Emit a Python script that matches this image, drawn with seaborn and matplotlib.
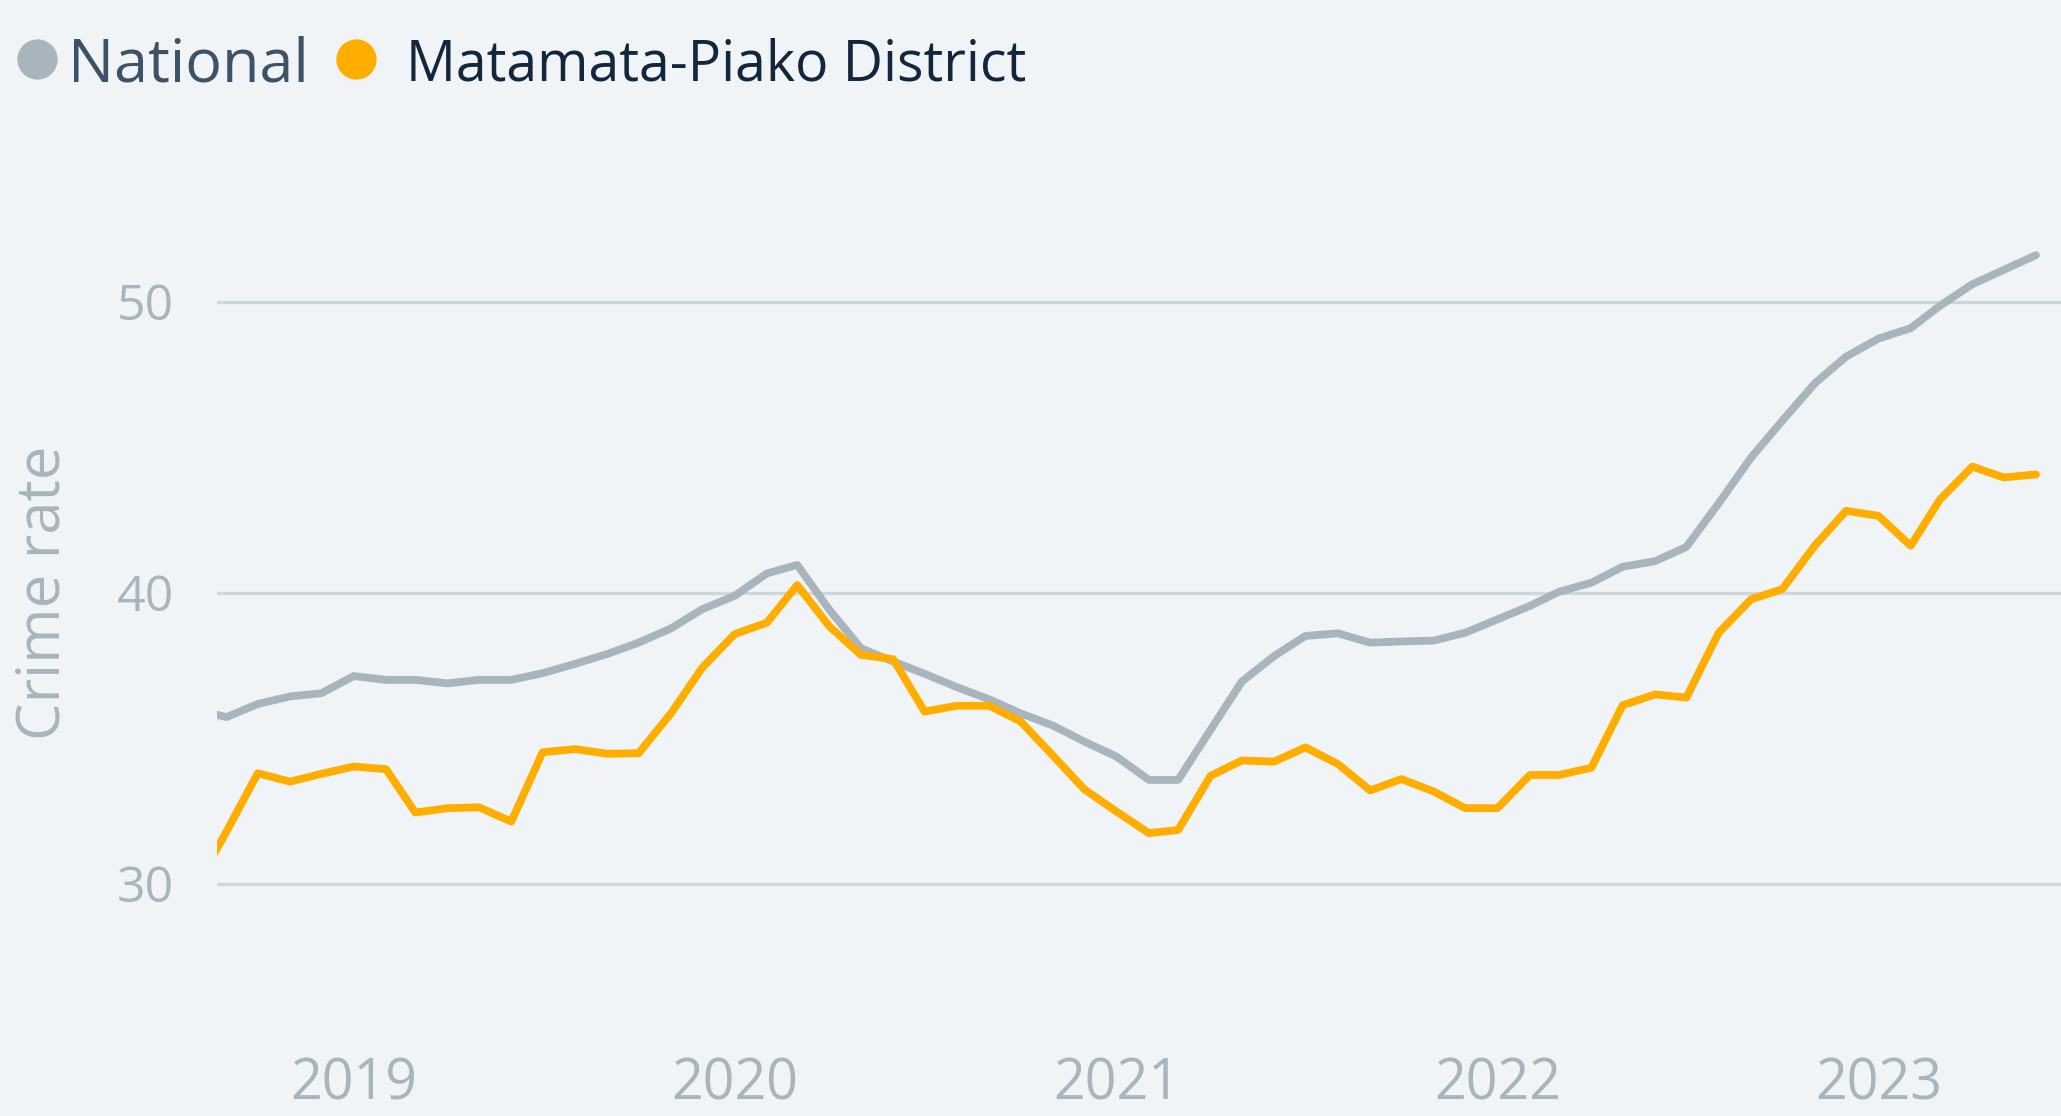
import pandas as pd
import numpy as np
import matplotlib.pyplot as plt
import seaborn as sns
from matplotlib.lines import Line2D

# monthly values, Aug 2018 .. Jun 2023 (first point sits just outside the axes)
months = pd.date_range('2018-08-01', periods=59, freq='MS')
national = [36.0, 35.72, 36.17, 36.43, 36.54, 37.13, 37.0, 37.0, 36.88, 37.0, 37.0,
            37.23, 37.55, 37.89, 38.28, 38.77, 39.43, 39.89, 40.66, 40.95, 39.40,
            38.09, 37.63, 37.21, 36.75, 36.33, 35.85, 35.43, 34.88, 34.36, 33.56,
            33.56, 35.28, 36.94, 37.82, 38.51, 38.60, 38.28, 38.32, 38.35, 38.62,
            39.08, 39.54, 40.03, 40.34, 40.89, 41.08, 41.57, 43.07, 44.64, 45.91,
            47.19, 48.11, 48.73, 49.09, 49.86, 50.60, 51.09, 51.60]
district = [29.8, 31.78, 33.79, 33.50, 33.77, 34.02, 33.93, 32.44, 32.59, 32.62, 32.13,
            34.51, 34.62, 34.46, 34.48, 35.85, 37.42, 38.57, 38.97, 40.26, 38.83,
            37.86, 37.71, 35.91, 36.11, 36.11, 35.57, 34.40, 33.24, 32.47, 31.73,
            31.84, 33.70, 34.23, 34.19, 34.68, 34.11, 33.20, 33.59, 33.16, 32.59,
            32.59, 33.73, 33.73, 33.98, 36.13, 36.50, 36.39, 38.62, 39.77, 40.12,
            41.61, 42.81, 42.64, 41.61, 43.20, 44.33, 43.96, 44.06]
series_names = ['National', 'Matamata-Piako District']
colors = ['#A8B5BC', '#FFAE00']
text_colors = ['#3E5266', '#13263C']
year_ticks = ['2019', '2020', '2021', '2022', '2023']

df = pd.DataFrame({
    'month': list(months) * 2,
    'rate': national + district,
    'area': [series_names[0]] * len(months) + [series_names[1]] * len(months),
})

bg = '#F0F4F7'
W, H = 2061, 1116
sns.set_style('white')
plt.rcParams['font.family'] = ['Open Sans', 'DejaVu Sans']

fig = plt.figure(figsize=(W / 100, H / 100), dpi=100, facecolor=bg)
ax = fig.add_axes([0.1053, 0.078, 0.8947, 0.782])
ax.set_facecolor(bg)

sns.lineplot(data=df, x='month', y='rate', hue='area', hue_order=series_names,
             palette=colors, linewidth=5.6, ax=ax, legend=False,
             solid_capstyle='round')

ax.set_ylim(25, 55)
ax.set_xlim(pd.Timestamp('2018-08-23'), pd.Timestamp('2023-06-25'))
ax.set_yticks([30, 40, 50])
ax.set_xticks([pd.Timestamp(y + '-01-01') for y in year_ticks])
ax.set_xticklabels(year_ticks)
ax.grid(axis='y', color='#CDD7DC', linewidth=2.4)
ax.set_axisbelow(True)
for s in ax.spines.values():
    s.set_visible(False)
ax.tick_params(axis='y', length=0, labelsize=36, labelcolor='#A8B5BC', pad=31)
ax.tick_params(axis='x', length=0, labelsize=40, labelcolor='#A8B5BC', pad=20)
ax.set_xlabel('')
ax.set_ylabel('Crime rate', fontsize=43, color='#A8B5BC', labelpad=31)

# legend drawn by hand: dot + label for each series
legend_dots = [(37, 59), (356, 59)]
legend_text_x = [68, 406]
legend_sizes = [44, 40]
for (dx, dy), tx, fs, c, tc, name in zip(legend_dots, legend_text_x, legend_sizes,
                                         colors, text_colors, series_names):
    fig.add_artist(Line2D([dx / W], [1 - dy / H], transform=fig.transFigure,
                          marker='o', markersize=29, markerfacecolor=c,
                          markeredgecolor='none', linestyle='none'))
    fig.text(tx / W, 1 - 66 / H, name, fontsize=fs, color=tc, va='center', ha='left')

fig.savefig('out.png', dpi=100, facecolor=bg)
